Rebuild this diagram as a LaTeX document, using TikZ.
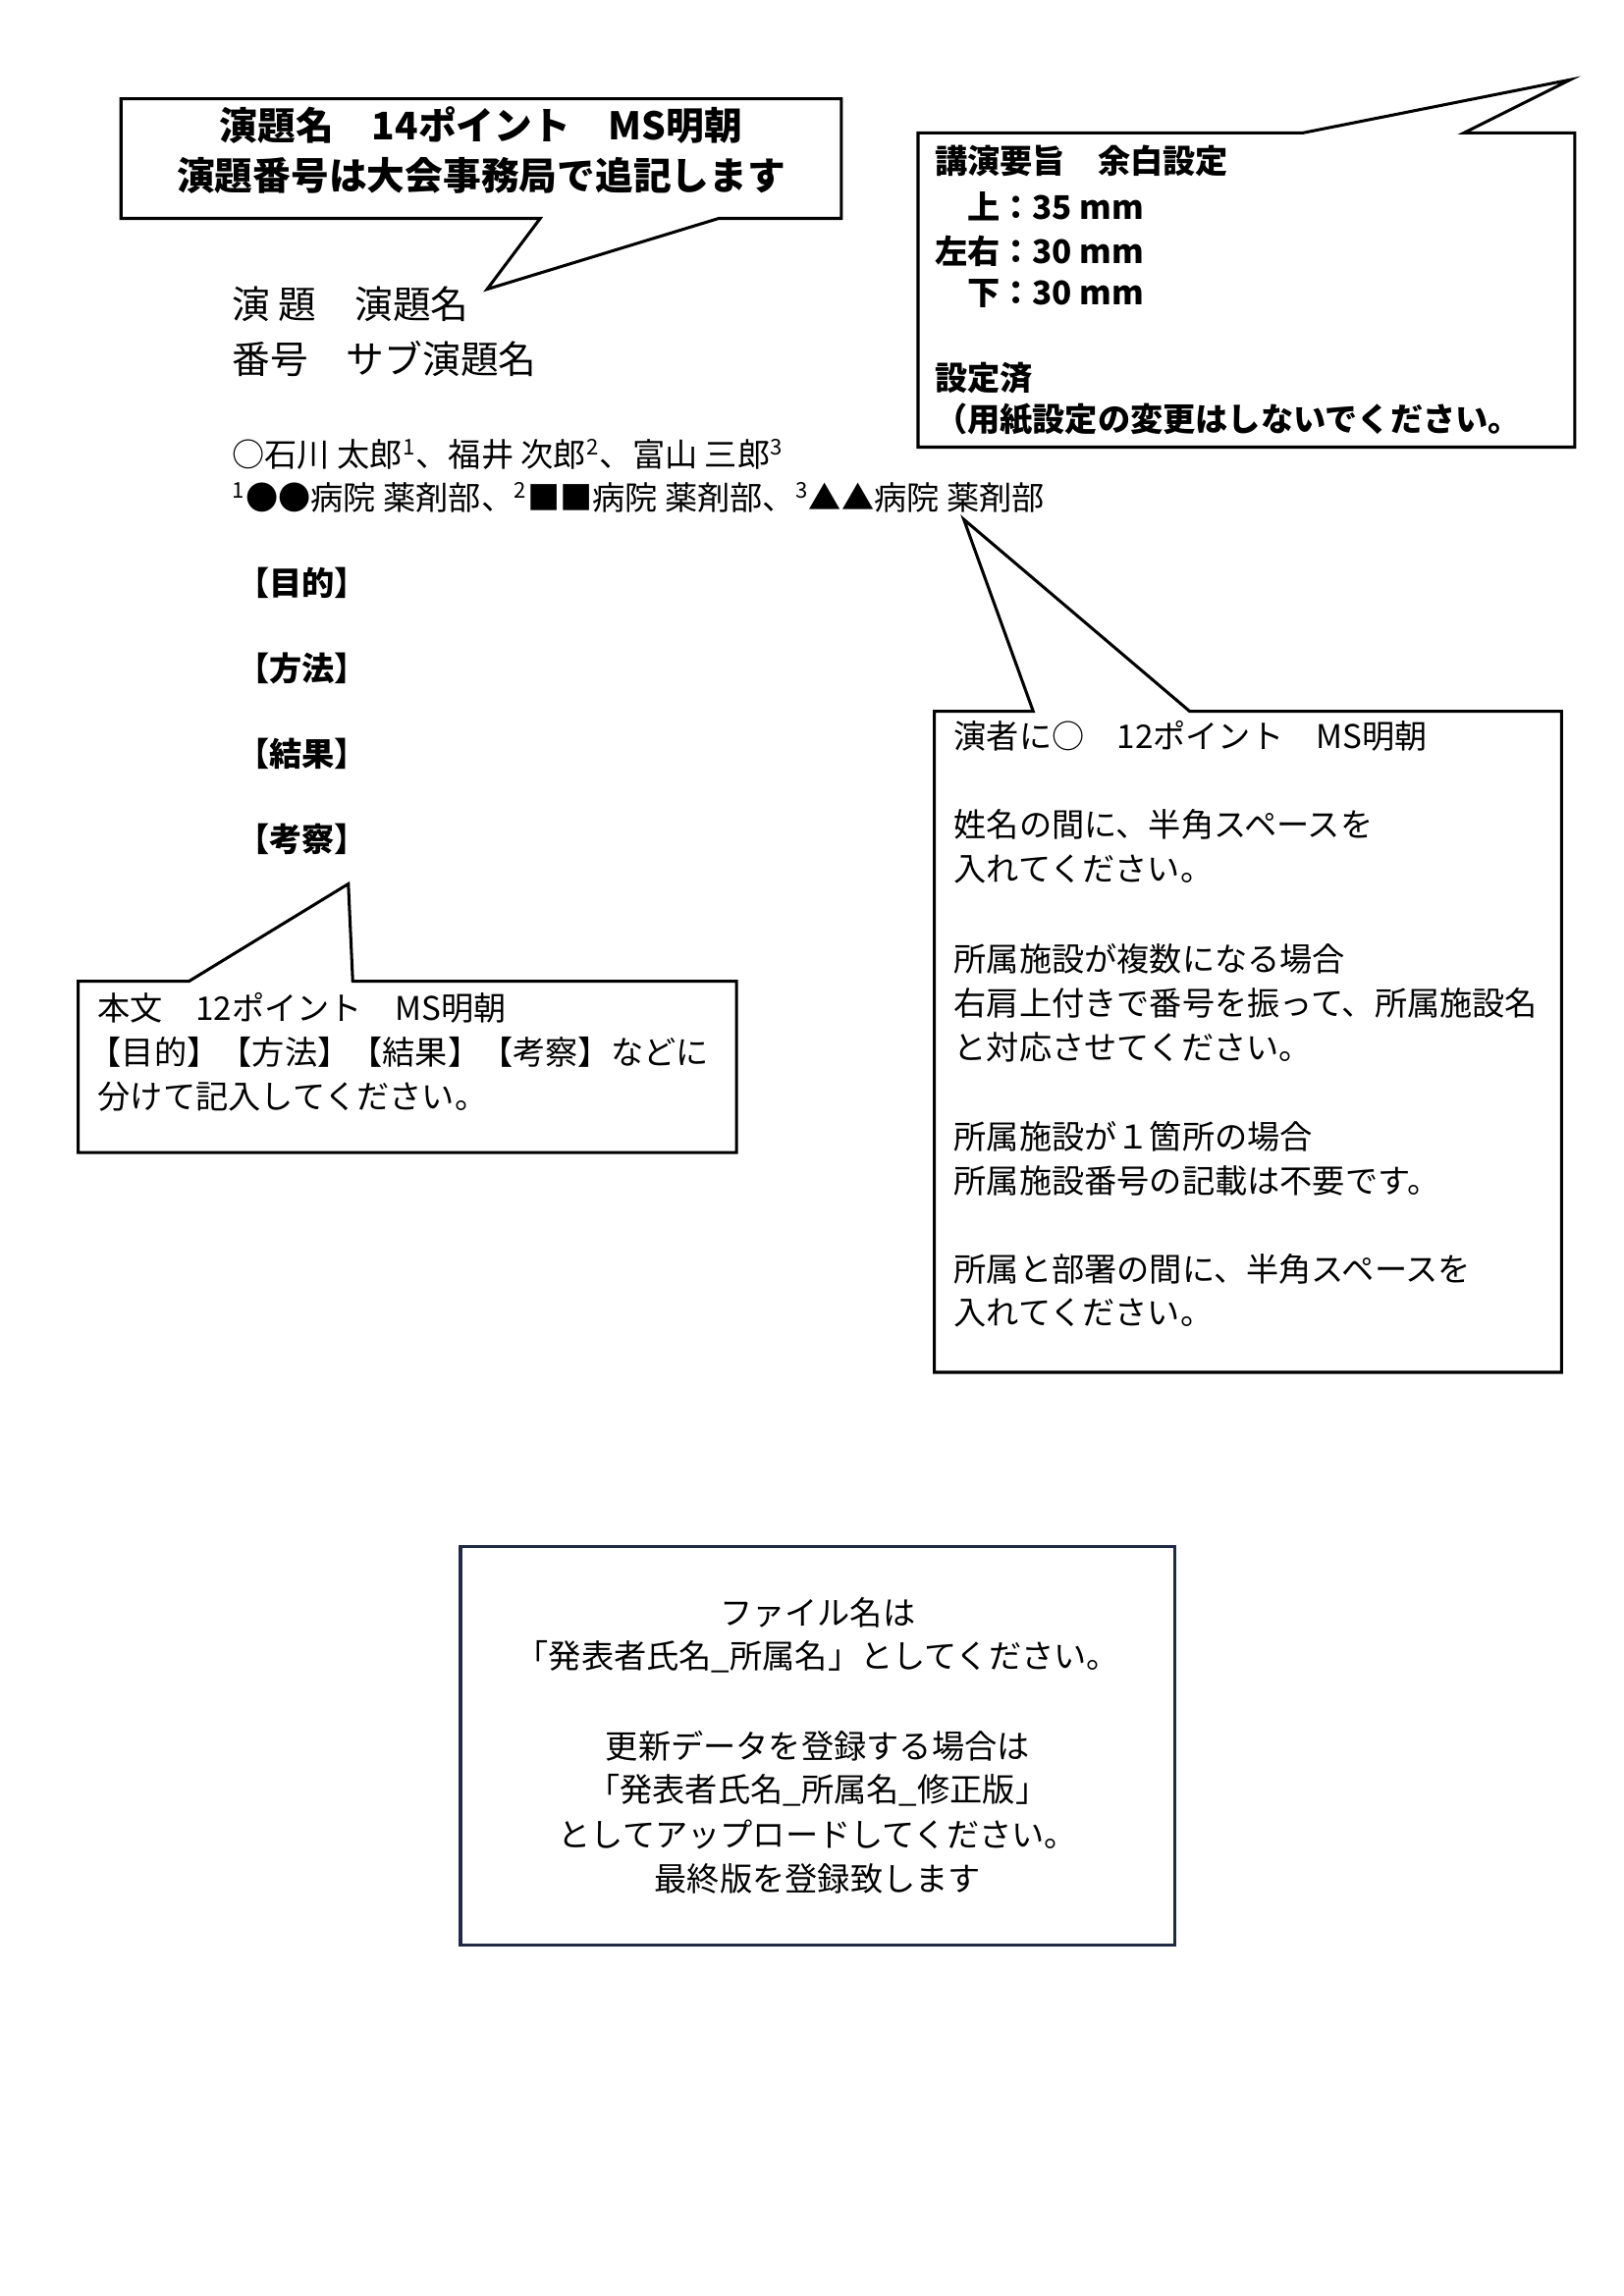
\documentclass[tikz,border=0pt]{standalone}
\usepackage{fontspec}
\setmainfont{Noto Sans CJK JP}
\begin{document}
\begin{tikzpicture}[x=0.19091mm,y=-0.19091mm,
  co/.style={draw=black,line width=1.1pt,fill=white,line join=miter},
  t12/.style={anchor=west,inner sep=0pt,font=\fontsize{12}{14}\selectfont},
  t12b/.style={t12,font=\fontsize{12}{14}\selectfont\bfseries},
  t14/.style={anchor=west,inner sep=0pt,font=\fontsize{14}{16}\selectfont},
  c12/.style={anchor=center,inner sep=0pt,font=\fontsize{12}{14}\selectfont}]
\useasboundingbox (0,0) rectangle (1100,1556);
% callout 1
\draw[co] (82,67) -- (570,67) -- (570,148) -- (487,148) -- (330,196) -- (366,148) -- (82,148) -- cycle;
\node[anchor=center,inner sep=0pt,font=\fontsize{14}{16}\selectfont\bfseries] (c1a) at (326,85) {演題名　14ポイント　MS明朝};
\node[anchor=center,inner sep=0pt,font=\fontsize{14}{16}\selectfont\bfseries] (c1b) at (326,119) {演題番号は大会事務局で追記します};
% callout 2
\draw[co] (622,90) -- (883,90) -- (1064,54) -- (992,90) -- (1067,90) -- (1067,303) -- (622,303) -- cycle;
\node[t12b] (m1) at (633,109) {講演要旨　余白設定};
\node[t12b] (m2) at (633,140) {　上：35 mm};
\node[t12b] (m3) at (633,170) {左右：30 mm};
\node[t12b] (m4) at (633,199) {　下：30 mm};
\node[t12b] (m5) at (633,256) {設定済};
\node[t12b] (m6) at (633,284) {（用紙設定の変更はしないでください。};
% left text
\node[t14] (l1) at (157,206) {演 題　演題名};
\node[t14] (l2) at (157,243) {番号　サブ演題名};
\node[t12] (l3) at (157,308) {○石川 太郎\textsuperscript{1}、福井 次郎\textsuperscript{2}、富山 三郎\textsuperscript{3}};
\node[t12] (l4) at (157,337) {\textsuperscript{1}●●病院 薬剤部、\textsuperscript{2}■■病院 薬剤部、\textsuperscript{3}▲▲病院 薬剤部};
\node[t12b] (s1) at (160,395) {【目的】};
\node[t12b] (s2) at (160,453) {【方法】};
\node[t12b] (s3) at (160,511) {【結果】};
\node[t12b] (s4) at (160,569) {【考察】};
% callout 3
\draw[co] (53,665) -- (128,665) -- (236,599) -- (239,665) -- (499,665) -- (499,781) -- (53,781) -- cycle;
\node[t12] (b1) at (66,683) {本文　12ポイント　MS明朝};
\node[t12] (b2) at (60,713) {【目的】【方法】【結果】【考察】などに};
\node[t12] (b3) at (66,743) {分けて記入してください。};
% callout 4
\draw[co] (633,482) -- (700,482) -- (653,352) -- (806,482) -- (1058,482) -- (1058,930) -- (633,930) -- cycle;
\node[t12] (r1) at (646,499) {演者に○　12ポイント　MS明朝};
\node[t12] (r2) at (646,559) {姓名の間に、半角スペースを};
\node[t12] (r3) at (646,589) {入れてください。};
\node[t12] (r4) at (646,650) {所属施設が複数になる場合};
\node[t12] (r5) at (646,680) {右肩上付きで番号を振って、所属施設名};
\node[t12] (r6) at (646,710) {と対応させてください。};
\node[t12] (r7) at (646,770) {所属施設が１箇所の場合};
\node[t12] (r8) at (646,800) {所属施設番号の記載は不要です。};
\node[t12] (r9) at (646,860) {所属と部署の間に、半角スペースを};
\node[t12] (r10) at (646,890) {入れてください。};
% box 5
\draw[draw={rgb,255:red,31;green,42;blue,68},line width=1.1pt] (312,1048) rectangle (796,1318);
\node[c12] (f1) at (554,1093) {ファイル名は};
\node[c12] (f2) at (554,1123) {「発表者氏名\_所属名」としてください。};
\node[c12] (f3) at (554,1183) {更新データを登録する場合は};
\node[c12] (f4) at (554,1213) {「発表者氏名\_所属名\_修正版」};
\node[c12] (f5) at (554,1243) {としてアップロードしてください。};
\node[c12] (f6) at (554,1273) {最終版を登録致します};
\end{tikzpicture}
\end{document}
